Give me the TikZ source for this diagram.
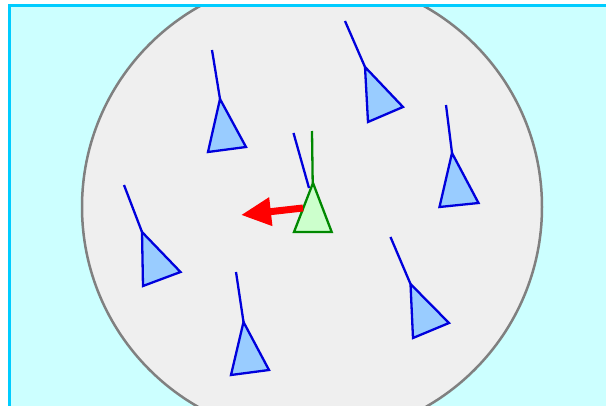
\documentclass[tikz,border=0pt]{standalone}
\usepackage{xcolor}
\usepackage{tikz}
\usetikzlibrary{arrows.meta}
\definecolor{TankCyan}{RGB}{204,255,255}
\definecolor{TankEdge}{RGB}{0,204,255}
\definecolor{ZoneGray}{RGB}{239,239,239}
\definecolor{ZoneEdge}{RGB}{128,128,128}
\definecolor{FishBlue}{RGB}{0,0,220}
\definecolor{FishFill}{RGB}{153,204,255}
\definecolor{SelfGreen}{RGB}{0,136,0}
\definecolor{SelfFill}{RGB}{204,255,204}

\begin{document}
\begin{tikzpicture}[
    x=1pt,
    y=-1pt,
    tank/.style={
        draw=TankEdge,
        line width=3pt
    },
    zone/.style={
        fill=ZoneGray,
        draw=ZoneEdge,
        line width=2.5pt
    },
    fish/.style={
        draw=FishBlue,
        fill=FishFill,
        line width=2.3pt
    },
    tail/.style={
        draw=FishBlue,
        line width=2.3pt
    },
    selffish/.style={
        draw=SelfGreen,
        fill=SelfFill,
        line width=2.3pt
    },
    selftail/.style={
        draw=SelfGreen,
        line width=2.3pt
    },
    push/.style={
        -{Triangle[length=30pt,width=27pt]},
        draw=red,
        line width=7pt
    }
]

\useasboundingbox (0,0) rectangle (606,406);
\clip (0,0) rectangle (606,406);

\begin{scope}
\clip (9.5,5.8) rectangle (640,440);
\fill[TankCyan] (9.5,5.8) rectangle (640,440);
\draw[zone] (312,207) circle [radius=230pt];
\end{scope}

\draw[tank] (9.5,5.8) rectangle (640,440);

% neighbours
\draw[tail] (212,50) -- (220,99);
\draw[fish] (220,99) -- (208,152) -- (246,147) -- cycle;

\draw[tail] (345,21) -- (365,67);
\draw[fish] (365,67) -- (368,122) -- (403,107) -- cycle;

\draw[tail] (446,105) -- (452,153);
\draw[fish] (452,153) -- (439.5,207) -- (478.5,203) -- cycle;

\draw[tail] (124,185) -- (142,232);
\draw[fish] (142,232) -- (143,286) -- (180.5,272) -- cycle;

\draw[tail] (236,272) -- (243.5,322);
\draw[fish] (243.5,322) -- (231,375) -- (269,370) -- cycle;

\draw[tail] (390.5,237) -- (410.5,284);
\draw[fish] (410.5,284) -- (413,338) -- (449,323) -- cycle;

\draw[tail] (293.5,133) -- (309,188);

% the boid itself
\draw[selftail] (312,131) -- (312.7,183);
\draw[selffish] (313,183) -- (294,232) -- (331.7,232) -- cycle;

\coordinate (self) at (303,208);
\coordinate (away) at (241,215);

\draw[push]
(self) -- (away);

\end{tikzpicture}
\end{document}
